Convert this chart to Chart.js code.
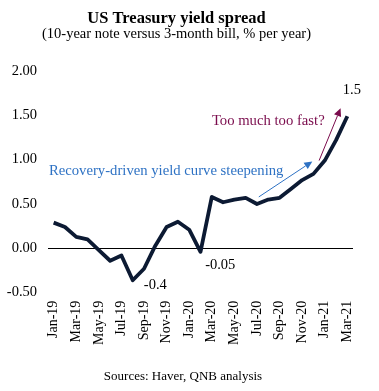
<!DOCTYPE html>
<html>
<head>
<meta charset="utf-8">
<script src="https://cdn.jsdelivr.net/npm/chart.js@4/dist/chart.umd.min.js"></script>
<style>
html,body{margin:0;padding:0;background:#fff;}
#wrap{width:379px;height:391px;position:relative;}
</style>
</head>
<body>
<div id="wrap"><canvas id="c" width="379" height="391"></canvas></div>
<script>
const months = ["Jan-19","Feb-19","Mar-19","Apr-19","May-19","Jun-19","Jul-19","Aug-19","Sep-19","Oct-19","Nov-19","Dec-19",
  "Jan-20","Feb-20","Mar-20","Apr-20","May-20","Jun-20","Jul-20","Aug-20","Sep-20","Oct-20","Nov-20","Dec-20",
  "Jan-21","Feb-21","Mar-21"];
const spread = [0.29,0.24,0.13,0.10,-0.02,-0.14,-0.08,-0.36,-0.23,0.03,0.24,0.30,
  0.21,-0.04,0.58,0.52,0.55,0.57,0.50,0.55,0.57,0.67,0.77,0.84,
  0.99,1.22,1.49];
const yTicks = [-0.5,0,0.5,1.0,1.5,2.0];

const SERIF = "'Liberation Serif','Times New Roman',serif";
const BLUE = "#2E72C4";
const MAROON = "#7A0B4C";

// annotation texts, anchored in data units (category index, value)
const notes = [
  {text:"1.5", i:26.4, v:1.785, color:"#000", align:"center", size:14.5},
  {text:"-0.4", i:9.0, v:-0.41, color:"#000", align:"center", size:14.5},
  {text:"-0.05", i:14.75, v:-0.185, color:"#000", align:"center", size:14.5},
  {text:"Recovery-driven yield curve steepening", i:-0.42, v:0.87, color:BLUE, align:"left", size:14.7},
  {text:"Too much too fast?", i:19.0, v:1.43, color:MAROON, align:"center", size:14.7}
];
const arrows = [
  {i0:18.16, v0:0.58, i1:22.9, v1:0.98, color:BLUE},
  {i0:23.5, v0:0.99, i1:25.4, v1:1.58, color:MAROON}
];

const annot = {
  id:'annot',
  afterDraw(chart){
    const ctx = chart.ctx, xs = chart.scales.x, ys = chart.scales.y;
    const px = i => xs.getPixelForValue(0) + i*(xs.getPixelForValue(1)-xs.getPixelForValue(0));
    ctx.save();
    notes.forEach(n=>{
      ctx.font = n.size+"px "+SERIF;
      ctx.fillStyle = n.color;
      ctx.textAlign = n.align;
      ctx.textBaseline = "middle";
      ctx.fillText(n.text, px(n.i), ys.getPixelForValue(n.v));
    });
    arrows.forEach(a=>{
      const x0=px(a.i0), y0=ys.getPixelForValue(a.v0), x1=px(a.i1), y1=ys.getPixelForValue(a.v1);
      const ang=Math.atan2(y1-y0,x1-x0), L=8, W=3.8;
      const bx=x1-L*Math.cos(ang), by=y1-L*Math.sin(ang);
      ctx.strokeStyle=a.color; ctx.fillStyle=a.color; ctx.lineWidth=1;
      ctx.beginPath(); ctx.moveTo(x0,y0); ctx.lineTo(bx,by); ctx.stroke();
      ctx.beginPath(); ctx.moveTo(x1,y1);
      ctx.lineTo(bx+W*Math.sin(ang), by-W*Math.cos(ang));
      ctx.lineTo(bx-W*Math.sin(ang), by+W*Math.cos(ang));
      ctx.closePath(); ctx.fill();
    });
    ctx.font = "13px "+SERIF;
    ctx.fillStyle="#000"; ctx.textAlign="center"; ctx.textBaseline="middle";
    ctx.fillText("Sources: Haver, QNB analysis", 183, 377);
    ctx.restore();
  }
};

new Chart(document.getElementById('c'), {
  type:'line',
  data:{labels:months, datasets:[{data:spread, borderColor:"#0C1A33", borderWidth:3.8,
    pointRadius:0, tension:0, fill:false, borderJoinStyle:'round'}]},
  options:{
    responsive:false, animation:false,
    layout:{padding:{left:0,right:26,top:0,bottom:38}},
    plugins:{
      legend:{display:false}, tooltip:{enabled:false},
      title:{display:true, text:"US Treasury yield spread", color:"#000",
        font:{family:SERIF, size:16.5, weight:'bold', lineHeight:1.0}, padding:{top:10,bottom:0}},
      subtitle:{display:true, text:"(10-year note versus 3-month bill, % per year)", color:"#000",
        font:{family:SERIF, size:14.5, lineHeight:1.0}, padding:{top:0,bottom:30}}
    },
    scales:{
      x:{offset:true, border:{display:false}, grid:{display:false, drawTicks:false},
        ticks:{autoSkip:false, minRotation:90, maxRotation:90, padding:8, color:"#000",
          font:{family:SERIF,size:14},
          callback:(v,i)=> i%2===0 ? months[i] : ''}},
      y:{min:-0.5, max:2.0, border:{display:false},
        afterBuildTicks:s=>{s.ticks=yTicks.map(v=>({value:v}));},
        afterFit:s=>{s.width=48;},
        grid:{drawTicks:false, lineWidth:1, color:c=> c.tick && c.tick.value===0 ? "#000" : "rgba(0,0,0,0)"},
        ticks:{padding:11, color:"#000", font:{family:SERIF,size:14.5},
          callback:v=>v.toFixed(2)}}
    }
  },
  plugins:[annot]
});
</script>
</body>
</html>
